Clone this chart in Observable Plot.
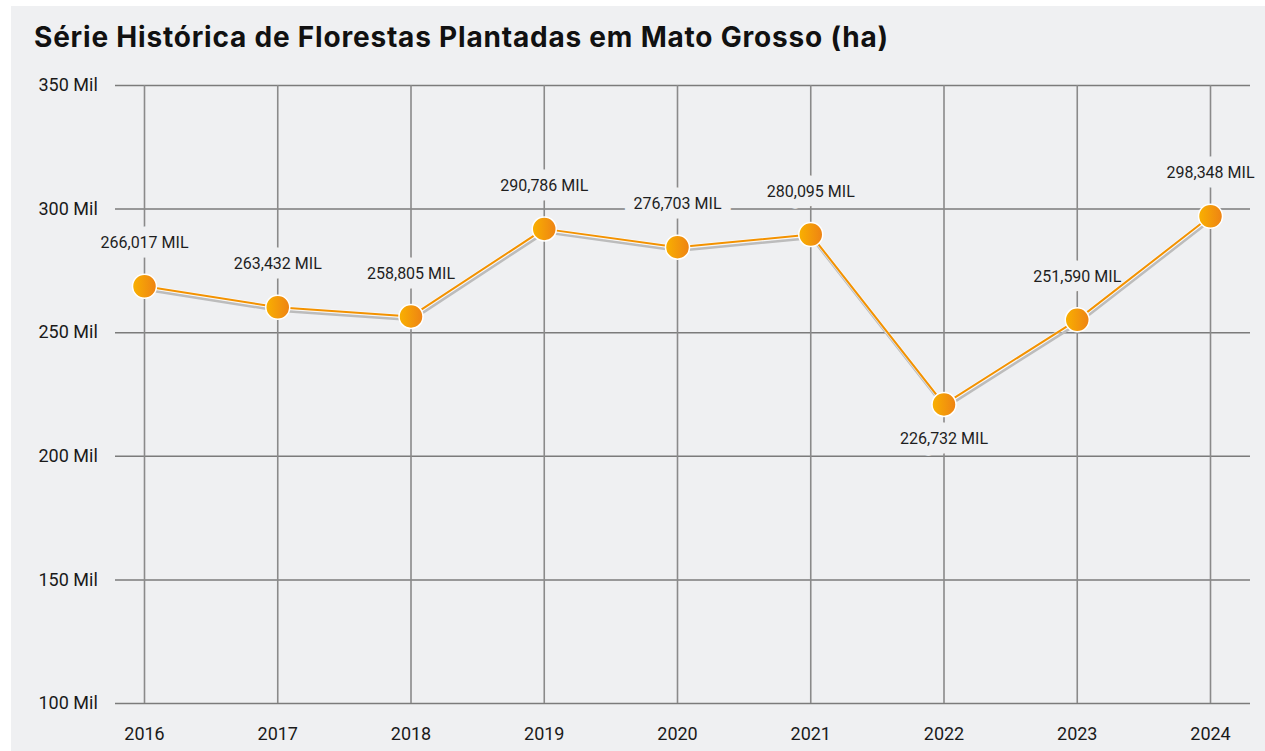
<!DOCTYPE html>
<html>
<head>
<meta charset="utf-8">
<script src="https://cdn.jsdelivr.net/npm/d3@7"></script>
<script src="https://cdn.jsdelivr.net/npm/@observablehq/plot@0.6"></script>
<style>
  html, body { margin: 0; padding: 0; background: #ffffff; }
  #panel {
    position: absolute; left: 11px; top: 6px; width: 1254px; height: 745px;
    background: #eff0f2; overflow: hidden;
  }
  #title {
    padding: 18px 0 0 23px; height: 27px; line-height: 27px;
    font-family: Inter, Roboto, "Noto Sans", sans-serif; font-weight: 700; font-size: 28px;
    color: #111; white-space: nowrap; letter-spacing: 0.8px;
  }
  svg { display: block; }
</style>
</head>
<body>
<div id="panel">
  <div id="title">Série Histórica de Florestas Plantadas em Mato Grosso (ha)</div>
  <div id="chart"></div>
</div>
<script>
// Data (thousand hectares) as plotted in the picture, and the printed labels
const years  = [2016, 2017, 2018, 2019, 2020, 2021, 2022, 2023, 2024];
const values = [268.8, 260.3, 256.6, 292.0, 284.6, 289.7, 221.0, 255.2, 297.1];
const labels = ["266,017 MIL", "263,432 MIL", "258,805 MIL", "290,786 MIL", "276,703 MIL",
                "280,095 MIL", "226,732 MIL", "251,590 MIL", "298,348 MIL"];
const yTicks = [100, 150, 200, 250, 300, 350];

const data = years.map((year, i) => ({year, value: values[i], label: labels[i]}));
const minV = d3.min(values);
const above = d => d.value !== minV;
const below = d => d.value === minV;

const BG = "#eff0f2";
// labels with a halo in the panel colour that masks the grid behind them
const labelStyle = {x: "year", y: "value", text: "label", fontSize: 16, fontFamily: "Roboto, sans-serif",
                    fill: "#1e1e1e", stroke: BG, strokeWidth: 19, strokeLinejoin: "round", paintOrder: "stroke"};

const plot = Plot.plot({
  width: 1254,
  height: 700,
  marginLeft: 104,
  marginRight: 15,
  marginTop: 34,
  marginBottom: 48,
  x: {domain: [2016, 2024], insetLeft: 29, insetRight: 40},
  y: {domain: [100, 350]},
  style: {background: "transparent", fontFamily: "Roboto, sans-serif", overflow: "visible"},
  marks: [
    Plot.ruleY(yTicks, {stroke: "#7b7b7b", strokeWidth: 1.5}),
    Plot.ruleX(years, {y1: 100, y2: 350, stroke: "#8a8a8a", strokeWidth: 1.6}),
    Plot.axisY({ticks: yTicks, tickSize: 0, tickPadding: 77, textAnchor: "start",
                tickFormat: d => `${d} Mil`, fontSize: 18, fill: "#1a1a1a", label: null}),
    Plot.axisX({ticks: years, tickSize: 0, tickPadding: 24, tickFormat: d => String(d),
                fontSize: 18, fill: "#1a1a1a", label: null}),
    Plot.text(data, {...labelStyle, filter: above, dy: -43}),
    Plot.text(data, {...labelStyle, filter: below, dy: 34}),
    // shadow line
    Plot.line(data, {x: "year", y: "value", stroke: "#bcbcbc", strokeWidth: 2.5, dy: 3.5, dx: 1}),
    Plot.line(data, {x: "year", y: "value", stroke: "#ffffff", strokeWidth: 3.5, strokeOpacity: 0.6}),
    Plot.line(data, {x: "year", y: "value", stroke: "#f39200", strokeWidth: 2}),
    Plot.dot(data, {x: "year", y: "value", r: 12, fill: "url(#ptGrad)", stroke: "#ffffff", strokeWidth: 1.5})
  ]
});

// gradient for the points
const ns = "http://www.w3.org/2000/svg";
const defs = document.createElementNS(ns, "defs");
const grad = document.createElementNS(ns, "linearGradient");
grad.setAttribute("id", "ptGrad");
grad.setAttribute("x1", "0"); grad.setAttribute("y1", "0");
grad.setAttribute("x2", "1"); grad.setAttribute("y2", "0");
[["0%", "#f9b100"], ["100%", "#ee8214"]].forEach(([o, c]) => {
  const s = document.createElementNS(ns, "stop");
  s.setAttribute("offset", o); s.setAttribute("stop-color", c);
  grad.appendChild(s);
});
defs.appendChild(grad);
plot.insertBefore(defs, plot.firstChild);

document.getElementById("chart").appendChild(plot);
</script>
</body>
</html>
